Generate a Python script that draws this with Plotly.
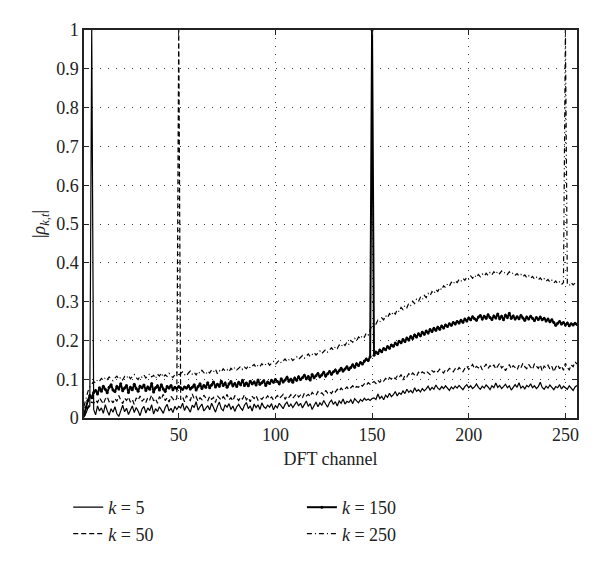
import plotly.graph_objects as go

# DFT channels 1..256
channel = list(range(1, 257))

rho_k5 = [
    0.004, 0.012, 0.025, 0.03, 1.0, 0.022, 0.008, 0.031, 0.018, 0.026, 0.012, 0.034, 0.019, 0.007, 0.024, 0.015,
    0.029, 0.011, 0.004, 0.021, 0.033, 0.016, 0.025, 0.009, 0.02, 0.031, 0.014, 0.027, 0.018, 0.006, 0.023, 0.03,
    0.013, 0.026, 0.019, 0.034, 0.01, 0.024, 0.017, 0.029, 0.021, 0.012, 0.027, 0.035, 0.018, 0.025, 0.014, 0.03,
    0.022, 0.03, 0.026, 0.038, 0.019, 0.031, 0.024, 0.015, 0.033, 0.027, 0.042, 0.02, 0.029, 0.036, 0.018, 0.025,
    0.032, 0.021, 0.038, 0.027, 0.015, 0.03, 0.041, 0.024, 0.019, 0.034, 0.028, 0.037, 0.022, 0.031, 0.017, 0.029,
    0.035, 0.026, 0.02, 0.033, 0.04, 0.024, 0.031, 0.018, 0.036, 0.027, 0.034, 0.022, 0.039, 0.029, 0.025, 0.033,
    0.028, 0.037, 0.021, 0.032, 0.026, 0.038, 0.03, 0.024, 0.035, 0.041, 0.029, 0.036, 0.027, 0.033, 0.042, 0.031,
    0.038, 0.026, 0.035, 0.044, 0.03, 0.037, 0.022, 0.034, 0.041, 0.029, 0.039, 0.033, 0.045, 0.036, 0.028, 0.04,
    0.046, 0.035, 0.042, 0.031, 0.044, 0.038, 0.049, 0.036, 0.043, 0.04, 0.047, 0.037, 0.05, 0.044, 0.039, 0.048,
    0.043, 0.051, 0.046, 0.049, 0.045, 0.05, 0.052, 0.048, 0.062, 0.05, 0.056, 0.047, 0.059, 0.053, 0.064, 0.055,
    0.06, 0.068, 0.057, 0.065, 0.061, 0.07, 0.063, 0.074, 0.066, 0.071, 0.064, 0.078, 0.069, 0.073, 0.067, 0.076,
    0.07, 0.075, 0.082, 0.072, 0.079, 0.074, 0.085, 0.077, 0.073, 0.081, 0.076, 0.083, 0.078, 0.071, 0.08, 0.075,
    0.082, 0.077, 0.084, 0.079, 0.073, 0.081, 0.086, 0.078, 0.083, 0.076, 0.08, 0.088, 0.079, 0.074, 0.082, 0.077,
    0.085, 0.08, 0.073, 0.083, 0.078, 0.09, 0.079, 0.084, 0.076, 0.081, 0.087, 0.078, 0.083, 0.072, 0.08, 0.086,
    0.079, 0.091, 0.077, 0.082, 0.075, 0.084, 0.08, 0.088, 0.078, 0.083, 0.076, 0.081, 0.092, 0.079, 0.074, 0.082,
    0.077, 0.085, 0.079, 0.073, 0.081, 0.078, 0.086, 0.075, 0.082, 0.079, 0.074, 0.083, 0.077, 0.071, 0.08, 0.084,
]

rho_k50 = [
    0.002, 0.015, 0.028, 0.035, 0.041, 0.038, 0.046, 0.04, 0.052, 0.044, 0.036, 0.049, 0.055, 0.042, 0.047, 0.039,
    0.05, 0.043, 0.058, 0.046, 0.037, 0.051, 0.045, 0.054, 0.041, 0.048, 0.035, 0.052, 0.046, 0.057, 0.043, 0.049,
    0.04, 0.053, 0.047, 0.059, 0.044, 0.05, 0.038, 0.055, 0.048, 0.061, 0.045, 0.052, 0.041, 0.056, 0.049, 0.043,
    0.051, 1.0, 0.047, 0.054, 0.042, 0.058, 0.05, 0.045, 0.062, 0.049, 0.055, 0.043, 0.052, 0.047, 0.059, 0.051,
    0.044, 0.056, 0.048, 0.053, 0.04, 0.057, 0.05, 0.046, 0.055, 0.049, 0.061, 0.047, 0.052, 0.044, 0.058, 0.051,
    0.045, 0.054, 0.049, 0.06, 0.047, 0.053, 0.042, 0.056, 0.05, 0.058, 0.046, 0.052, 0.048, 0.055, 0.05, 0.057,
    0.049, 0.054, 0.046, 0.052, 0.058, 0.05, 0.055, 0.061, 0.048, 0.057, 0.053, 0.06, 0.051, 0.056, 0.063, 0.054,
    0.059, 0.052, 0.064, 0.057, 0.061, 0.055, 0.066, 0.06, 0.058, 0.068, 0.062, 0.065, 0.059, 0.071, 0.064, 0.068,
    0.063, 0.072, 0.067, 0.074, 0.069, 0.077, 0.071, 0.075, 0.08, 0.073, 0.078, 0.083, 0.076, 0.081, 0.079, 0.086,
    0.082, 0.088, 0.084, 0.091, 0.087, 0.09, 0.094, 0.089, 0.097, 0.092, 0.099, 0.095, 0.102, 0.098, 0.104, 0.1,
    0.106, 0.101, 0.108, 0.104, 0.112, 0.098, 0.11, 0.106, 0.114, 0.109, 0.116, 0.111, 0.107, 0.118, 0.113, 0.119,
    0.115, 0.121, 0.117, 0.112, 0.122, 0.118, 0.124, 0.119, 0.126, 0.12, 0.116, 0.125, 0.121, 0.128, 0.123, 0.119,
    0.127, 0.122, 0.13, 0.124, 0.119, 0.128, 0.134, 0.125, 0.131, 0.138, 0.127, 0.133, 0.129, 0.136, 0.124, 0.132,
    0.139, 0.128, 0.135, 0.13, 0.137, 0.126, 0.133, 0.141, 0.129, 0.134, 0.122, 0.131, 0.138, 0.127, 0.135, 0.13,
    0.124, 0.136, 0.129, 0.141, 0.132, 0.127, 0.138, 0.131, 0.125, 0.14, 0.133, 0.128, 0.137, 0.121, 0.134, 0.129,
    0.136, 0.126, 0.133, 0.119, 0.131, 0.138, 0.127, 0.134, 0.123, 0.141, 0.13, 0.124, 0.137, 0.132, 0.145, 0.139,
]

rho_k150 = [
    0.008, 0.028, 0.045, 0.058, 0.052, 0.066, 0.071, 0.062, 0.078, 0.069, 0.082, 0.074, 0.065, 0.079, 0.086, 0.072,
    0.068, 0.081, 0.075, 0.088, 0.07, 0.077, 0.084, 0.066, 0.079, 0.073, 0.087, 0.076, 0.069, 0.082, 0.078, 0.085,
    0.071, 0.08, 0.074, 0.089, 0.067, 0.078, 0.083, 0.072, 0.086, 0.075, 0.069, 0.081, 0.077, 0.084, 0.073, 0.079,
    0.076, 0.081, 0.078, 0.074, 0.08, 0.077, 0.083, 0.075, 0.079, 0.086, 0.072, 0.081, 0.088, 0.076, 0.084, 0.079,
    0.091, 0.078, 0.085, 0.093, 0.08, 0.087, 0.082, 0.095, 0.084, 0.09, 0.079, 0.088, 0.094, 0.083, 0.089, 0.081,
    0.092, 0.086, 0.097, 0.084, 0.09, 0.083, 0.095, 0.088, 0.093, 0.085, 0.098, 0.087, 0.091, 0.096, 0.084, 0.093,
    0.089, 0.097, 0.092, 0.099, 0.094, 0.088, 0.101, 0.093, 0.098, 0.105, 0.095, 0.1, 0.092, 0.103, 0.097, 0.106,
    0.099, 0.104, 0.11, 0.101, 0.107, 0.098, 0.112, 0.104, 0.109, 0.115, 0.106, 0.111, 0.118, 0.108, 0.114, 0.12,
    0.113, 0.119, 0.124, 0.116, 0.122, 0.128, 0.121, 0.126, 0.132, 0.125, 0.13, 0.137, 0.131, 0.14, 0.135, 0.143,
    0.139, 0.147, 0.152, 0.148, 0.158, 1.0, 0.162, 0.17, 0.166, 0.175, 0.171, 0.179, 0.176, 0.184, 0.18, 0.188,
    0.185, 0.193, 0.189, 0.198, 0.194, 0.202, 0.197, 0.206, 0.201, 0.21, 0.205, 0.214, 0.209, 0.217, 0.212, 0.221,
    0.216, 0.224, 0.219, 0.228, 0.223, 0.231, 0.226, 0.234, 0.229, 0.237, 0.232, 0.24, 0.236, 0.243, 0.239, 0.246,
    0.242, 0.249, 0.245, 0.252, 0.247, 0.255, 0.25, 0.258, 0.253, 0.261, 0.256, 0.252, 0.26, 0.264, 0.255, 0.262,
    0.257, 0.266, 0.259, 0.254, 0.263, 0.258, 0.268, 0.256, 0.262, 0.253, 0.265, 0.259, 0.27, 0.257, 0.263, 0.255,
    0.261, 0.256, 0.264, 0.258, 0.252, 0.26, 0.255, 0.262, 0.257, 0.251, 0.259, 0.254, 0.26, 0.253, 0.257, 0.25,
    0.255, 0.248, 0.253, 0.246, 0.239, 0.244, 0.249, 0.242, 0.246, 0.24, 0.245, 0.238, 0.243, 0.24, 0.244, 0.241,
]

rho_k250 = [
    0.03, 0.052, 0.068, 0.08, 0.088, 0.094, 0.09, 0.099, 0.095, 0.102, 0.097, 0.104, 0.099, 0.106, 0.1, 0.096,
    0.103, 0.108, 0.1, 0.105, 0.098, 0.107, 0.103, 0.11, 0.101, 0.106, 0.112, 0.104, 0.099, 0.108, 0.105, 0.111,
    0.103, 0.109, 0.114, 0.106, 0.11, 0.102, 0.113, 0.108, 0.116, 0.105, 0.111, 0.107, 0.115, 0.109, 0.104, 0.112,
    0.117, 0.11, 0.114, 0.119, 0.112, 0.108, 0.116, 0.121, 0.113, 0.118, 0.111, 0.12, 0.115, 0.123, 0.117, 0.112,
    0.121, 0.116, 0.124, 0.119, 0.126, 0.114, 0.122, 0.118, 0.127, 0.121, 0.125, 0.119, 0.128, 0.123, 0.13, 0.124,
    0.128, 0.133, 0.125, 0.131, 0.127, 0.135, 0.129, 0.134, 0.138, 0.13, 0.136, 0.132, 0.14, 0.134, 0.139, 0.143,
    0.136, 0.141, 0.146, 0.138, 0.144, 0.149, 0.142, 0.147, 0.152, 0.145, 0.15, 0.155, 0.148, 0.153, 0.158, 0.151,
    0.156, 0.161, 0.154, 0.159, 0.165, 0.158, 0.163, 0.169, 0.162, 0.167, 0.173, 0.166, 0.171, 0.177, 0.17, 0.176,
    0.181, 0.175, 0.184, 0.179, 0.188, 0.183, 0.192, 0.187, 0.196, 0.19, 0.2, 0.195, 0.205, 0.199, 0.209, 0.204,
    0.213, 0.208, 0.219, 0.214, 0.226, 0.24, 0.246, 0.242, 0.252, 0.247, 0.258, 0.253, 0.264, 0.258, 0.269, 0.264,
    0.274, 0.268, 0.279, 0.274, 0.285, 0.279, 0.29, 0.284, 0.296, 0.29, 0.301, 0.295, 0.306, 0.3, 0.311, 0.305,
    0.316, 0.31, 0.321, 0.315, 0.326, 0.32, 0.331, 0.326, 0.336, 0.33, 0.341, 0.336, 0.345, 0.34, 0.35, 0.345,
    0.354, 0.349, 0.357, 0.352, 0.36, 0.355, 0.363, 0.358, 0.366, 0.36, 0.368, 0.362, 0.37, 0.364, 0.371, 0.366,
    0.373, 0.367, 0.375, 0.369, 0.377, 0.371, 0.378, 0.372, 0.379, 0.373, 0.376, 0.37, 0.377, 0.371, 0.374, 0.368,
    0.372, 0.366, 0.37, 0.364, 0.369, 0.362, 0.367, 0.36, 0.365, 0.358, 0.363, 0.356, 0.361, 0.354, 0.359, 0.352,
    0.357, 0.35, 0.355, 0.348, 0.353, 0.346, 0.351, 0.344, 0.349, 1.0, 0.347, 0.341, 0.349, 0.343, 0.348, 0.345,
]

x_ticks = [50, 100, 150, 200, 250]
y_ticks = [0, 0.1, 0.2, 0.3, 0.4, 0.5, 0.6, 0.7, 0.8, 0.9, 1]

FONT = "Liberation Serif"

fig = go.Figure()
fig.add_trace(go.Scatter(x=channel, y=rho_k5, name="<i>k</i> = 5", mode="lines",
                         line=dict(color="black", width=1.2, dash="solid"), legend="legend"))
fig.add_trace(go.Scatter(x=channel, y=rho_k50, name="<i>k</i> = 50", mode="lines",
                         line=dict(color="black", width=1.2, dash="5px,3px"), legend="legend"))
fig.add_trace(go.Scatter(x=channel, y=rho_k150, name="<i>k</i> = 150", mode="lines+markers",
                         line=dict(color="black", width=2, dash="solid"),
                         marker=dict(color="black", size=3), legend="legend2"))
fig.add_trace(go.Scatter(x=channel, y=rho_k250, name="<i>k</i> = 250", mode="lines",
                         line=dict(color="black", width=1.2, dash="5px,3px,1px,3px"), legend="legend2"))

axis_common = dict(
    showline=True, linecolor="#222", linewidth=1.5, mirror="allticks",
    ticks="inside", ticklen=5, tickcolor="#222",
    showgrid=True, gridcolor="#333", gridwidth=1, griddash="1px,7px",
    zeroline=False, tickfont=dict(family=FONT, size=18, color="#222"),
)

fig.update_layout(
    width=600, height=561,
    margin=dict(l=76, r=31, t=22, b=151),
    paper_bgcolor="white", plot_bgcolor="white",
    font=dict(family=FONT, size=18, color="#222"),
    showlegend=True,
    xaxis=dict(range=[1, 256], tickvals=x_ticks,
               title=dict(text="DFT channel", standoff=8, font=dict(family=FONT, size=18)),
               **axis_common),
    yaxis=dict(range=[0, 1], tickvals=y_ticks,
               title=dict(text="|<i>ρ</i><sub><i>k,t</i></sub>|", standoff=6, font=dict(family=FONT, size=18)),
               **axis_common),
    legend=dict(x=-0.032, y=-0.183, xanchor="left", yanchor="top",
                bgcolor="rgba(0,0,0,0)", font=dict(family=FONT, size=18), tracegroupgap=0),
    legend2=dict(x=0.442, y=-0.183, xanchor="left", yanchor="top",
                 bgcolor="rgba(0,0,0,0)", font=dict(family=FONT, size=18), tracegroupgap=0),
)

fig.write_html("out.html")
